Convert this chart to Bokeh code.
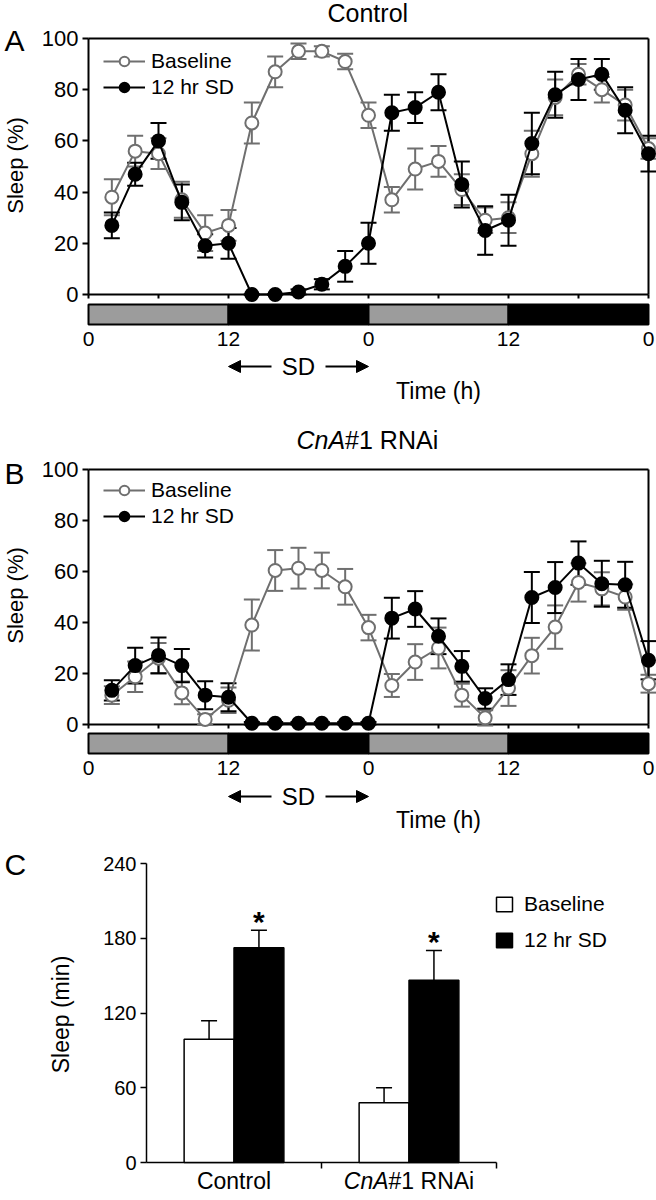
import math
from bokeh.plotting import figure
from bokeh.models import (Range1d, FixedTicker, ColumnDataSource, Whisker, TeeHead,
                          Legend, LegendItem, Label, Arrow, NormalHead, LinearAxis)
from bokeh.layouts import column
from bokeh.embed import file_html
from bokeh.resources import INLINE
from bokeh.core.properties import value

FONT = "Liberation Sans"
GRAY_LINE = "#6f6f6f"
GRAY_BAR = "#9c9c9c"

# ---------------- data ----------------
hours = [2, 4, 6, 8, 10, 12, 14, 16, 18, 20, 22, 24,
         26, 28, 30, 32, 34, 36, 38, 40, 42, 44, 46, 48]

ctrl_base = [38, 56, 55, 37, 24, 27, 67, 87, 95, 95, 91, 70,
             37, 49, 52, 41, 29, 30, 55, 77, 86, 80, 74, 57]
ctrl_base_err = [7, 6, 6, 7, 7, 6, 8, 6, 3, 2, 3, 5,
                 5, 8, 6, 6, 5, 6, 9, 7, 4, 5, 6, 4]
ctrl_sd = [27, 47, 60, 36, 19, 20, 0, 0, 1, 4, 11, 20,
           71, 73, 79, 43, 25, 29, 59, 78, 84, 86, 72, 55]
ctrl_sd_err = [5, 4.5, 7, 7, 4.5, 6, 0, 0, 1, 2, 6, 8,
               7, 6, 7, 9, 9.5, 10, 12, 9, 8, 6, 9, 7]

cna_base = [11.5, 18.7, 26, 12.4, 2, 9.5, 39, 60.4, 61.3, 60.4, 54, 38,
            15.3, 24.5, 30, 11.5, 2.6, 14.3, 27, 38.2, 55.7, 53.2, 50, 16]
cna_base_err = [3.5, 6, 6, 4.5, 2, 5, 10, 8, 8, 7, 7, 5,
                4.5, 7, 8, 4.5, 3, 7, 7, 8.5, 7.5, 6.5, 5, 3.5]
cna_sd = [13.4, 23.1, 27.1, 23.1, 11.5, 10.7, 0.5, 0.5, 0.5, 0.5, 0.5, 0.5,
          41.7, 45.3, 34.6, 22.8, 10.2, 17.6, 49.8, 53.7, 63.3, 55.2, 54.8, 25.2]
cna_sd_err = [4, 7, 7, 6.5, 5.5, 5.5, 0.5, 0.5, 0.5, 0.5, 0.5, 0.5,
              8, 7, 7, 6, 4, 6, 10, 10, 8.5, 9, 9, 7.5]

time_ticks = [0, 12, 24, 36, 48]
time_tick_labels = ["0", "12", "0", "12", "0"]
time_minor_ticks = [0, 6, 12, 18, 24, 30, 36, 42, 48]
pct_ticks = [0, 20, 40, 60, 80, 100]
phase_start = [0, 12, 24, 36]
phase_end = [12, 24, 36, 48]
phase_color = [GRAY_BAR, "black", GRAY_BAR, "black"]
sd_window = [12, 24]

groups = ["Control", "CnA#1 RNAi"]
group_x = [1, 3]
total_base = [99, 48]
total_base_err = [14.7, 12]
total_sd = [172.4, 146.2]
total_sd_err = [14, 24]
min_ticks = [0, 60, 120, 180, 240]
group_sep_ticks = [2, 4]

# ---------------- helpers ----------------
PX_H = 560 / 48.0   # pixels per hour
FIG_W = 656
PAGE_L = 0


def lab(p, x, y, text, size, align="center", baseline="middle", style="normal", angle=0):
    p.add_layout(Label(x=x, y=y, text=text, text_font=FONT, text_font_size=size,
                       text_font_style=style, text_align=align, text_baseline=baseline,
                       angle=angle, text_color="black"))


def style_axis(ax, size, lw):
    ax.axis_line_width = lw
    ax.major_tick_line_width = lw
    ax.minor_tick_line_color = None
    ax.major_label_text_font = FONT
    ax.major_label_text_font_size = size
    ax.major_label_text_color = "black"
    ax.level = "underlay"


def course_panel(fig_top, height, zero_px, hundred_px, bar_px, base, base_err, sd,
                 sd_err, letter, letter_y, title_y, title_parts, sd_y, time_y,
                 sleep_y, legend_row1):
    ppu = (zero_px - hundred_px) / 100.0

    def xd(px):
        return (px - 88) / PX_H

    def yd(py):
        return (zero_px - py) / ppu

    p = figure(frame_width=FIG_W, frame_height=height,
               x_range=Range1d(xd(PAGE_L), xd(PAGE_L + FIG_W)),
               y_range=Range1d(yd(fig_top + height), yd(fig_top)),
               min_border_left=0, min_border_right=0, min_border_top=0,
               min_border_bottom=0, output_backend="svg", toolbar_location=None)
    p.outline_line_color = None
    p.xgrid.visible = False
    p.ygrid.visible = False

    xmax = time_ticks[-1]
    # y axis at x = 0
    yax = p.yaxis[0]
    yax.fixed_location = 0
    yax.bounds = (0, 100)
    yax.ticker = FixedTicker(ticks=pct_ticks)
    yax.major_tick_out = 6
    yax.major_tick_in = 0
    yax.major_label_standoff = 4
    style_axis(yax, "22px", 2)

    # x axis line with 6-h ticks at y = 0
    xax = p.xaxis[0]
    xax.fixed_location = 0
    xax.bounds = (0, xmax)
    xax.ticker = FixedTicker(ticks=time_minor_ticks)
    xax.major_label_overrides = {t: "" for t in time_minor_ticks}
    xax.major_tick_out = 4
    xax.major_tick_in = 0
    style_axis(xax, "21px", 2)

    # time labels under the light/dark bar
    tax = LinearAxis(fixed_location=yd(bar_px[1]), ticker=FixedTicker(ticks=time_ticks),
                     major_label_overrides={t: l for t, l in zip(time_ticks, time_tick_labels)},
                     major_tick_out=0, major_tick_in=0, major_label_standoff=7)
    style_axis(tax, "21px", 2)
    tax.axis_line_color = None
    tax.major_tick_line_color = None
    p.add_layout(tax, "below")

    # top and right border of the box
    p.segment(x0=[0, xmax], y0=[100, 0], x1=[xmax, xmax], y1=[100, 100],
              line_color="black", line_width=2, level="underlay")

    # light/dark bar
    p.quad(left=phase_start, right=phase_end, bottom=[yd(bar_px[1])] * 4,
           top=[yd(bar_px[0])] * 4, fill_color=phase_color,
           line_color="black", line_width=2)

    def series(vals, errs, color, fill):
        src = ColumnDataSource(dict(x=hours, y=vals,
                                    lo=[v - e for v, e in zip(vals, errs)],
                                    hi=[v + e for v, e in zip(vals, errs)]))
        w = Whisker(source=src, base="x", lower="lo", upper="hi",
                    line_color=color, line_width=2,
                    upper_head=TeeHead(size=16, line_color=color, line_width=2),
                    lower_head=TeeHead(size=16, line_color=color, line_width=2))
        p.add_layout(w)
        lr = p.line("x", "y", source=src, line_color=color, line_width=2)
        sr = p.scatter("x", "y", source=src, marker="circle", size=13,
                       fill_color=fill, line_color=color, line_width=2)
        return lr, sr

    lb, sb = series(base, base_err, GRAY_LINE, "white")
    ls, ss = series(sd, sd_err, "black", "black")

    legend_top = legend_row1 - 12
    legend = Legend(items=[LegendItem(label="Baseline", renderers=[lb, sb]),
                           LegendItem(label="12 hr SD", renderers=[ls, ss])],
                    location=(103 - PAGE_L, fig_top + height - (legend_top + 50)),
                    padding=0, margin=0, spacing=2, glyph_width=42, glyph_height=24,
                    label_height=24, label_standoff=6, border_line_color=None,
                    background_fill_alpha=0, label_text_font=FONT,
                    label_text_font_size="21px", label_text_color="black")
    p.add_layout(legend)

    # texts
    lab(p, xd(4), yd(letter_y), letter, "30px", align="left")
    lab(p, xd(15), yd(sleep_y), "Sleep (%)", "22px", angle=math.pi / 2)
    for txt, px, style in title_parts:
        lab(p, xd(px), yd(title_y), txt, "25px", align="left", style=style)
    lab(p, xd(438), yd(time_y), "Time (h)", "23px")
    mid = (sd_window[0] + sd_window[1]) / 2.0
    lab(p, mid, yd(sd_y), "SD", "24px")
    gap = 27 / PX_H
    for a, b in [(mid - gap, sd_window[0]), (mid + gap, sd_window[1])]:
        p.add_layout(Arrow(end=NormalHead(size=12, fill_color="black", line_color="black",
                                          line_width=1),
                           x_start=a, y_start=yd(sd_y), x_end=b, y_end=yd(sd_y),
                           line_color="black", line_width=2))
    return p


pA = course_panel(1, 407, 295, 39, (305, 325), ctrl_base, ctrl_base_err,
                  ctrl_sd, ctrl_sd_err, "A", 41, 13, [("Control", 327, "normal")],
                  367, 391, 166, 62)
pB = course_panel(408, 430, 725, 470, (734, 754), cna_base, cna_base_err,
                  cna_sd, cna_sd_err, "B", 474, 440,
                  [("CnA", 296, "italic"), ("#1 RNAi", 344.6, "normal")],
                  797, 820, 596, 491)

# ---------------- panel C ----------------
C_PX = 87.5
C_PPU = 299 / 240.0
C_TOP = 838
C_H = 359
C_ZERO = 1163


def xc(px):
    return (px - 146) / C_PX


def yc(py):
    return (C_ZERO - py) / C_PPU


pC = figure(frame_width=FIG_W, frame_height=C_H,
            x_range=Range1d(xc(PAGE_L), xc(PAGE_L + FIG_W)),
            y_range=Range1d(yc(C_TOP + C_H), yc(C_TOP)),
            min_border_left=0, min_border_right=0, min_border_top=0,
            min_border_bottom=0, output_backend="svg", toolbar_location=None)
pC.outline_line_color = None
pC.xgrid.visible = False
pC.ygrid.visible = False

cy = pC.yaxis[0]
cy.fixed_location = 0
cy.bounds = (0, min_ticks[-1])
cy.ticker = FixedTicker(ticks=min_ticks)
cy.major_tick_out = 6
cy.major_tick_in = 0
cy.major_label_standoff = 4
style_axis(cy, "20px", 1.5)

cx = pC.xaxis[0]
cx.fixed_location = 0
cx.bounds = (0, group_sep_ticks[-1])
cx.ticker = FixedTicker(ticks=group_sep_ticks)
cx.major_label_overrides = {t: "" for t in group_sep_ticks}
cx.major_tick_out = 6
cx.major_tick_in = 0
style_axis(cx, "20px", 1.5)

half = 0.285
bsrc = ColumnDataSource(dict(x=[g - half for g in group_x], top=total_base,
                             lo=total_base,
                             hi=[v + e for v, e in zip(total_base, total_base_err)]))
ssrc = ColumnDataSource(dict(x=[g + half for g in group_x], top=total_sd,
                             lo=total_sd,
                             hi=[v + e for v, e in zip(total_sd, total_sd_err)]))
for src in (bsrc, ssrc):
    pC.add_layout(Whisker(source=src, base="x", lower="lo", upper="hi",
                          line_color="black", line_width=1.5, lower_head=None,
                          upper_head=TeeHead(size=16, line_color="black", line_width=1.5)))
rb = pC.vbar(x="x", top="top", width=2 * half, bottom=0, source=bsrc,
             fill_color="white", line_color="black", line_width=1.5)
rs = pC.vbar(x="x", top="top", width=2 * half, bottom=0, source=ssrc,
             fill_color="black", line_color="black", line_width=1.5)
pC.text(x="x", y="hi", text=value("*"), source=ssrc, text_font=value(FONT),
        text_font_size="30px", text_font_style="bold", text_align="center",
        text_baseline="alphabetic", text_color="black", y_offset=-9)

legC = Legend(items=[LegendItem(label="Baseline", renderers=[rb]),
                     LegendItem(label="12 hr SD", renderers=[rs])],
              location=(494 - PAGE_L, C_TOP + C_H - 953), padding=0, margin=0,
              spacing=12, glyph_width=20, glyph_height=18, label_height=18,
              label_standoff=10, border_line_color=None, background_fill_alpha=0,
              label_text_font=FONT, label_text_font_size="21px",
              label_text_color="black")
pC.add_layout(legC)

lab(pC, xc(4), yc(865), "C", "30px", align="left")
lab(pC, xc(60), yc(1015), "Sleep (min)", "23px", angle=math.pi / 2)
CAT_Y = 1181
lab(pC, group_x[0], yc(CAT_Y), groups[0], "23px")
# mixed-style second group label ("CnA" in italics)
cna_w = 1.945 * 23
rest_w = 3.723 * 23
start = 146 + group_x[1] * C_PX - (cna_w + rest_w) / 2
lab(pC, xc(start), yc(CAT_Y), "CnA", "23px", align="left", style="italic")
lab(pC, xc(start + cna_w), yc(CAT_Y), "#1 RNAi", "23px", align="left")

layout = column(pA, pB, pC, spacing=0)
open("out.html", "w").write(file_html(layout, INLINE))
